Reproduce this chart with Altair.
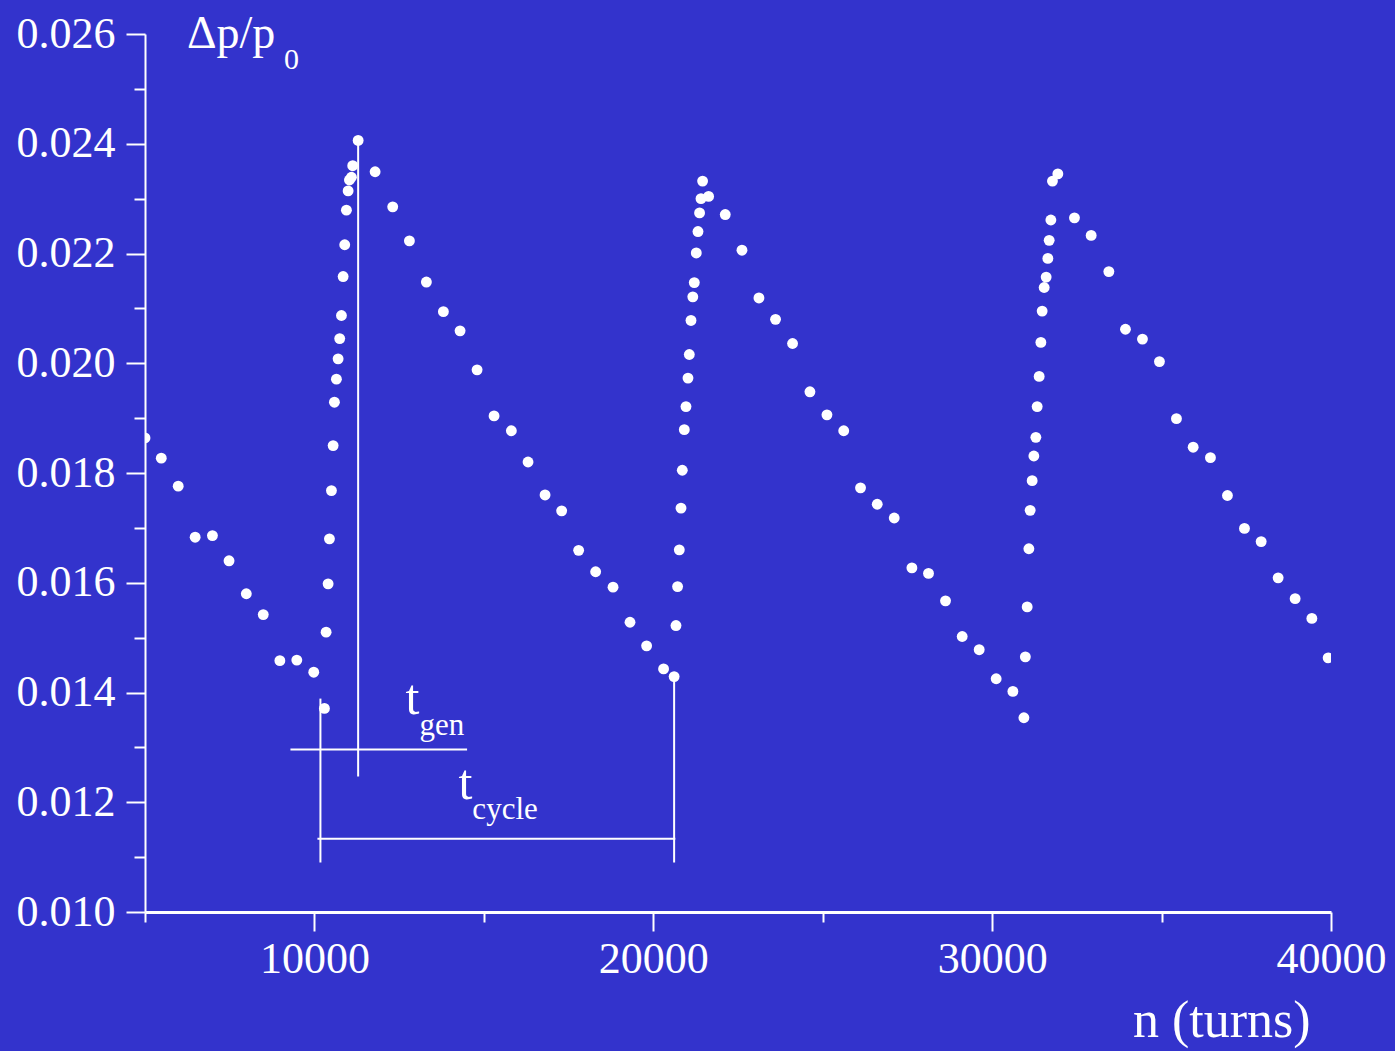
import altair as alt
import pandas as pd

# Momentum spread dp/p0 versus turn number, one list pair per ramp of the sawtooth
decay0_n = [5000, 5480, 5980, 6480, 6990, 7480, 7990, 8490, 8980, 9480, 9980]
decay0_dp = [0.01864, 0.01827, 0.01776, 0.01683, 0.01686, 0.01640, 0.01580,
             0.01542, 0.01458, 0.01459, 0.01437]

rise1_n = [10295, 10345, 10404, 10443, 10502, 10552, 10590, 10649, 10699, 10746,
           10797, 10847, 10894, 10944, 10994, 11033, 11092, 11130, 11290]
rise1_dp = [0.01371, 0.01510, 0.01598, 0.01680, 0.01768, 0.01850, 0.01929, 0.01971,
            0.02008, 0.02045, 0.02087, 0.02158, 0.02216, 0.02279, 0.02314, 0.02334,
            0.02339, 0.02360, 0.02406]

decay1_n = [11791, 12310, 12803, 13304, 13806, 14298, 14800, 15301, 15812, 16304,
            16806, 17296, 17797, 18299, 18812, 19313, 19803, 20304, 20615]
decay1_dp = [0.02349, 0.02285, 0.02223, 0.02148, 0.02094, 0.02059, 0.01988, 0.01904,
             0.01877, 0.01820, 0.01760, 0.01731, 0.01659, 0.01620, 0.01592, 0.01528,
             0.01485, 0.01443, 0.01429]

rise2_n = [20670, 20717, 20768, 20818, 20856, 20915, 20965, 21024, 21063, 21113,
           21166, 21210, 21269, 21319, 21366, 21408, 21455, 21632]
rise2_dp = [0.01522, 0.01593, 0.01660, 0.01736, 0.01805, 0.01879, 0.01921, 0.01973,
            0.02016, 0.02078, 0.02121, 0.02147, 0.02201, 0.02240, 0.02274, 0.02300,
            0.02332, 0.02304]

decay2_n = [22124, 22617, 23118, 23608, 24110, 24623, 25125, 25620, 26116, 26609,
            27110, 27632, 28122, 28624, 29116, 29618, 30119, 30612, 30937]
decay2_dp = [0.02271, 0.02206, 0.02119, 0.02080, 0.02036, 0.01948, 0.01906, 0.01877,
             0.01773, 0.01743, 0.01718, 0.01627, 0.01617, 0.01567, 0.01502, 0.01478,
             0.01425, 0.01402, 0.01354]

rise3_n = [30980, 31034, 31084, 31122, 31181, 31231, 31290, 31329, 31388, 31438,
           31476, 31535, 31594, 31644, 31683, 31733, 31780, 31939]
rise3_dp = [0.01465, 0.01556, 0.01662, 0.01732, 0.01786, 0.01831, 0.01865, 0.01921,
            0.01976, 0.02038, 0.02095, 0.02138, 0.02157, 0.02191, 0.02224, 0.02261,
            0.02332, 0.02345]

decay3_n = [32429, 32922, 33444, 33934, 34436, 34937, 35439, 35932, 36442, 36944,
            37446, 37939, 38440, 38942, 39435, 39916]
decay3_dp = [0.02265, 0.02233, 0.02167, 0.02062, 0.02044, 0.02003, 0.01899, 0.01847,
             0.01828, 0.01759, 0.01699, 0.01675, 0.01609, 0.01571, 0.01535, 0.01463]

# Axis ticks
x_ticks = [5000, 10000, 15000, 20000, 25000, 30000, 35000, 40000]
y_ticks = [0.010, 0.011, 0.012, 0.013, 0.014, 0.015, 0.016, 0.017, 0.018,
           0.019, 0.020, 0.021, 0.022, 0.023, 0.024, 0.025, 0.026]

# Marker lines for t_gen and t_cycle: (n1, dp1, n2, dp2)
seg_n1 = [11290, 10177, 9292, 10089, 20615]
seg_dp1 = [0.02406, 0.013889, 0.012960, 0.011333, 0.01429]
seg_n2 = [11290, 10177, 14505, 20650, 20615]
seg_dp2 = [0.012468, 0.010902, 0.012960, 0.011333, 0.010902]

# Annotation labels: main letter and subscript
ann_text = ["t", "gen", "t", "cycle"]
ann_n = [12685, 13098, 14248, 14661]
ann_dp = [0.013616, 0.013233, 0.012067, 0.011703]
ann_size = [50, 31, 50, 31]

FONT = "Liberation Serif"
BG = "#3333CC"

points = pd.DataFrame({
    "n": decay0_n + rise1_n + decay1_n + rise2_n + decay2_n + rise3_n + decay3_n,
    "dp": decay0_dp + rise1_dp + decay1_dp + rise2_dp + decay2_dp + rise3_dp + decay3_dp,
})
segments = pd.DataFrame({"n1": seg_n1, "dp1": seg_dp1, "n2": seg_n2, "dp2": seg_dp2})
labels = pd.DataFrame({"text": ann_text, "n": ann_n, "dp": ann_dp, "size": ann_size})

x_scale = alt.Scale(domain=[5000, 40000], nice=False, zero=False)
y_scale = alt.Scale(domain=[0.010, 0.026], nice=False, zero=False)

x_axis = alt.Axis(
    values=x_ticks, title=None, grid=False,
    labelExpr="datum.value % 10000 == 0 ? format(datum.value, 'd') : ''",
    tickSize={"condition": {"test": "datum.value % 10000 != 0", "value": 10}, "value": 19},
    labelPadding=6, labelFlush=False, labelOverlap=False,
    domainWidth=3,
)
y_axis = alt.Axis(
    values=y_ticks, title=None, grid=False,
    labelExpr="round(datum.value * 1000) % 2 == 0 ? format(datum.value, '.3f') : ''",
    tickSize={"condition": {"test": "round(datum.value * 1000) % 2 == 1", "value": 11}, "value": 19},
    labelPadding=11, labelFlush=False, labelOverlap=False,
    domainWidth=2,
)

dots = alt.Chart(points).mark_circle(size=118, color="white", opacity=1, clip=True).encode(
    x=alt.X("n:Q", scale=x_scale, axis=x_axis),
    y=alt.Y("dp:Q", scale=y_scale, axis=y_axis),
)

rules = alt.Chart(segments).mark_rule(color="white", strokeWidth=2).encode(
    x="n1:Q", y="dp1:Q", x2="n2:Q", y2="dp2:Q",
)

ann = alt.Chart(labels).mark_text(
    color="white", font=FONT, align="left", baseline="alphabetic"
).encode(
    x="n:Q", y="dp:Q", text="text:N",
    size=alt.Size("size:Q", scale=None, legend=None),
)

titles_df = pd.DataFrame({"a": [0]})
y_title = alt.Chart(titles_df).mark_text(
    text="\u0394p/p", color="white", font=FONT, fontSize=46, align="left", baseline="alphabetic"
).encode(x=alt.value(42), y=alt.value(14))
y_title_sub = alt.Chart(titles_df).mark_text(
    text="0", color="white", font=FONT, fontSize=30, align="left", baseline="alphabetic"
).encode(x=alt.value(139), y=alt.value(35))
x_title = alt.Chart(titles_df).mark_text(
    text="n (turns)", color="white", font=FONT, fontSize=52, align="left", baseline="alphabetic"
).encode(x=alt.value(988), y=alt.value(1003))

chart = alt.layer(dots, rules, ann, y_title, y_title_sub, x_title).properties(
    width=1186, height=878,
    autosize=alt.AutoSizeParams(type="none"),
    padding={"left": 145, "top": 34, "right": 64, "bottom": 139},
    background=BG,
).configure_view(stroke=None).configure_axis(
    domainColor="white", tickColor="white", tickWidth=2,
    labelColor="white", labelFont=FONT, labelFontSize=44,
)

chart.save("out.html", embed_options={"renderer": "svg", "actions": False})
